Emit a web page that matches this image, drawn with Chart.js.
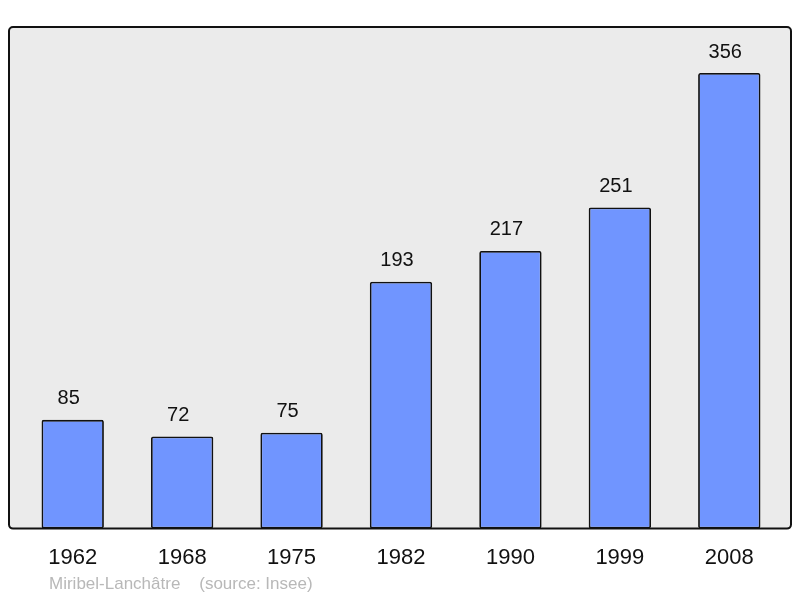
<!DOCTYPE html>
<html>
<head>
<meta charset="utf-8">
<script src="https://cdn.jsdelivr.net/npm/chart.js@4/dist/chart.umd.min.js"></script>
<style>
  body { margin: 0; background: #fff; }
  canvas { display: block; }
</style>
</head>
<body>
<canvas id="chart" width="800" height="598"></canvas>
<script>
const years = ['1962', '1968', '1975', '1982', '1990', '1999', '2008'];
const population = [85, 72, 75, 193, 217, 251, 356];
const yMax = 392;
const footer = 'Miribel-Lanchâtre    (source: Insee)';

const frame = {
  id: 'frame',
  beforeDraw(chart) {
    const { ctx, chartArea: a } = chart;
    const x = a.left - 9, y = a.top, w = a.right - a.left + 16, h = a.bottom - a.top;
    ctx.save();
    ctx.beginPath();
    ctx.roundRect(x, y, w, h, 4);
    ctx.fillStyle = '#ebebeb';
    ctx.fill();
    ctx.restore();
  },
  afterDatasetsDraw(chart) {
    const { ctx, chartArea: a } = chart;
    const x = a.left - 9, y = a.top, w = a.right - a.left + 16, h = a.bottom - a.top;
    ctx.save();
    ctx.beginPath();
    ctx.roundRect(x, y, w, h, 4);
    ctx.lineWidth = 2;
    ctx.strokeStyle = '#111';
    ctx.stroke();

    // value labels above bars (sit a little left of centre in the original)
    ctx.fillStyle = '#111';
    ctx.font = '20px "Liberation Sans", Arial, sans-serif';
    ctx.textAlign = 'center';
    ctx.textBaseline = 'middle';
    chart.getDatasetMeta(0).data.forEach((bar, i) => {
      ctx.fillText(String(population[i]), bar.x - 4, bar.y - 21);
    });

    // source line
    ctx.fillStyle = '#b8b8b8';
    ctx.font = '17px "Liberation Sans", Arial, sans-serif';
    ctx.textAlign = 'left';
    ctx.fillText(footer, 49, 584);
    ctx.restore();
  }
};

new Chart(document.getElementById('chart'), {
  type: 'bar',
  data: {
    labels: years,
    datasets: [{
      data: population,
      backgroundColor: '#7095ff',
      borderColor: '#111',
      borderWidth: 1.8,
      borderRadius: 2,
      borderSkipped: false,
      barPercentage: 0.57,
      categoryPercentage: 1
    }]
  },
  options: {
    responsive: false,
    animation: false,
    layout: { padding: { top: 27, left: 18, right: 16, bottom: 11 } },
    plugins: {
      legend: { display: false },
      tooltip: { enabled: false }
    },
    scales: {
      x: {
        grid: { display: false, drawTicks: false },
        border: { display: false },
        ticks: {
          color: '#111',
          padding: 16,
          font: { size: 22, family: '"Liberation Sans", Arial, sans-serif' }
        }
      },
      y: {
        display: false,
        min: 0,
        max: yMax
      }
    }
  },
  plugins: [frame]
});
</script>
</body>
</html>
